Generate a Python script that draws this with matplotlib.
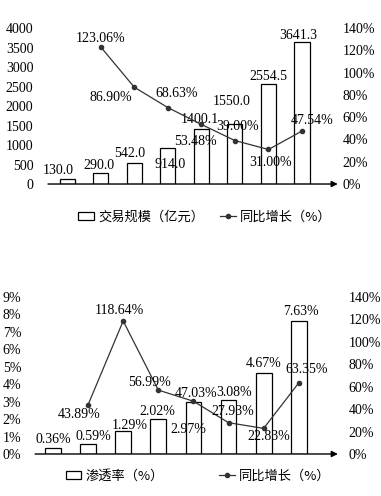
import matplotlib.pyplot as plt
from matplotlib.patches import Patch
from matplotlib.lines import Line2D

plt.rcParams['font.family'] = ['Liberation Serif', 'DejaVu Serif']
plt.rcParams['font.size'] = 10
CJK = ['Noto Sans CJK SC', 'DejaVu Sans']

# top chart: trade scale (100 million yuan) and YoY growth (%)
scale_vals = [130.0, 290.0, 542.0, 914.0, 1400.1, 1550.0, 2554.5, 3641.3]
scale_growth = [123.06, 86.90, 68.63, 53.48, 39.00, 31.00, 47.54]   # from 2nd bar on
scale_ticks = [0, 500, 1000, 1500, 2000, 2500, 3000, 3500, 4000]

# bottom chart: penetration rate (%) and YoY growth (%)
pen_vals = [0.36, 0.59, 1.29, 2.02, 2.97, 3.08, 4.67, 7.63]
pen_growth = [43.89, 118.64, 56.99, 47.03, 27.93, 22.83, 63.35]
pen_ticks = [0, 1, 2, 3, 4, 5, 6, 7, 8, 9]

growth_ticks = [0, 20, 40, 60, 80, 100, 120, 140]

# label offsets in pixels (dx, dy)
top_bar_off = [(-9, 8), (-2, 7), (-5, 9), (2, -16), (-2, 10), (-3, 22), (0, 8), (-4, 7)]
top_line_off = [(0, 8), (-23, -10), (9, 14), (-6, -17), (3, 14), (2, -13), (10, 11)]
bot_bar_off = [(0, 8), (5, 7), (7, 6), (-1, 7), (-5, -27), (6, 8), (0, 9), (2, 9)]
bot_line_off = [(-9, -10), (-4, 10), (-9, 8), (3, 8), (4, 11), (5, -8), (8, 13)]


def draw(rect, bars, growth, ymax, yticks, yfmt, bar_fmt, bar_off, line_off,
         xlim, pad_l, pad_r):
    ax = fig.add_axes(rect)
    x = list(range(len(bars)))
    ax.bar(x, bars, width=0.45, color='white', edgecolor='black', linewidth=0.9)
    ax.set_xlim(*xlim)
    ax.set_ylim(0, ymax)
    ax.set_yticks(yticks)
    ax.set_yticklabels([yfmt(t) for t in yticks])
    for xi, v, (dx, dy) in zip(x, bars, bar_off):
        ax.annotate(bar_fmt(v), (xi, v), xytext=(dx, dy), textcoords='offset pixels',
                    ha='center', va='center')

    ax2 = ax.twinx()
    ax2.set_ylim(0, 140)
    ax2.set_yticks(growth_ticks)
    ax2.set_yticklabels(['%d%%' % t for t in growth_ticks])
    gx = x[1:]
    ax2.plot(gx, growth, color='#333333', lw=0.9, marker='o', markersize=3)
    for xi, v, (dx, dy) in zip(gx, growth, line_off):
        ax2.annotate('%.2f%%' % v, (xi, v), xytext=(dx, dy), textcoords='offset pixels',
                     ha='center', va='center')

    for a in (ax, ax2):
        for s in ['top', 'right', 'left', 'bottom']:
            a.spines[s].set_visible(False)
    ax.tick_params(left=False, right=False, bottom=False, labelbottom=False, pad=pad_l)
    ax2.tick_params(left=False, right=False, bottom=False, pad=pad_r)
    ax.annotate('', xy=(1.01, 0), xytext=(0, 0), xycoords='axes fraction',
                arrowprops=dict(arrowstyle='-|>', color='black', lw=1,
                                mutation_scale=9, shrinkA=0, shrinkB=0))
    return ax


fig = plt.figure(figsize=(3.81, 4.96), dpi=100)

draw([0.126, 0.629, 0.753, 0.3145], scale_vals, scale_growth, 4000, scale_ticks,
     lambda t: '%d' % t, lambda v: '%.1f' % v, top_bar_off, top_line_off,
     (-0.57, 7.98), 7, 2)

draw([0.092, 0.0847, 0.787, 0.3165], pen_vals, pen_growth, 9, pen_ticks,
     lambda t: '%d%%' % t, lambda v: '%.2f%%' % v, bot_bar_off, bot_line_off,
     (-0.51, 8.03), 6.5, 6.5)

bar_h = Patch(facecolor='white', edgecolor='black', linewidth=0.9)
line_h = Line2D([], [], color='#333333', lw=0.9, marker='o', markersize=3)

fig.legend([bar_h, line_h], ['交易规模（亿元）', '同比增长（%）'], loc='center',
           bbox_to_anchor=(0.538, 0.5625), ncol=2, frameon=False,
           prop={'family': CJK, 'size': 9.5}, handlelength=1.2, handleheight=0.5,
           handletextpad=0.3, columnspacing=1.2, numpoints=1)
fig.legend([bar_h, line_h], ['渗透率（%）', '同比增长（%）'], loc='center',
           bbox_to_anchor=(0.52, 0.0403), ncol=2, frameon=False,
           prop={'family': CJK, 'size': 9.5}, handlelength=1.2, handleheight=0.5,
           handletextpad=0.3, columnspacing=4.2, numpoints=1)

fig.savefig('out.png', dpi=100)
